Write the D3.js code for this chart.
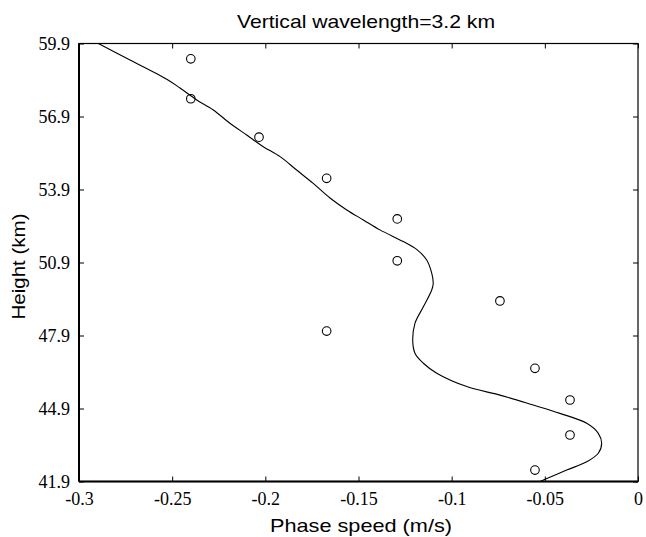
<!DOCTYPE html>
<html>
<head>
<meta charset="utf-8">
<script src="https://cdn.jsdelivr.net/npm/d3@7"></script>
<style>
  html, body { margin: 0; padding: 0; background: #fff; }
  svg { display: block; }
  .ticklab { font-family: "Liberation Serif", "Times New Roman", Times, serif; font-size: 18px; fill: #000; }
  .lab { font-family: "Liberation Sans", Arial, Helvetica, sans-serif; font-size: 19px; fill: #000; }
</style>
</head>
<body>
<svg id="chart" width="646" height="537"></svg>
<script>
// Observed phase speeds (circles)
const obsSpeed  = [-0.240, -0.240, -0.2034, -0.1671, -0.1292, -0.1292, -0.0741, -0.1671, -0.0553, -0.0365, -0.0365, -0.0553];
const obsHeight = [59.27, 57.63, 56.05, 54.36, 52.69, 50.97, 49.32, 48.08, 46.55, 45.25, 43.81, 42.37];

// Fitted curve
const fitSpeed  = [-0.2896, -0.2744, -0.2529, -0.2458, -0.2368, -0.2279, -0.2190, -0.2100, -0.2011, -0.1921, -0.1832,
                   -0.1743, -0.1653, -0.1563, -0.1474, -0.1385, -0.1260, -0.1188, -0.1134, -0.1107, -0.1099,
                   -0.1107, -0.1152, -0.1197, -0.1209, -0.1197, -0.1152, -0.1080,
                   -0.0919, -0.0741, -0.0562, -0.0419, -0.0275, -0.0213, -0.0195, -0.0213, -0.0275, -0.0383, -0.0508, -0.0526];
const fitHeight = [59.90, 59.29, 58.43, 58.07, 57.58, 57.17, 56.62, 56.14, 55.66, 55.25, 54.70,
                   54.15, 53.55, 53.06, 52.65, 52.24, 51.76, 51.44, 51.00, 50.46, 50.04,
                   49.77, 49.08, 48.40, 47.71, 47.17, 46.76, 46.35,
                   45.80, 45.45, 45.04, 44.70, 44.29, 43.88, 43.47, 43.06, 42.71, 42.37, 41.96, 41.90];

const xTicks = [-0.3, -0.25, -0.2, -0.15, -0.1, -0.05, 0];
const xTickLabels = ["-0.3", "-0.25", "-0.2", "-0.15", "-0.1", "-0.05", "0"];
const yTicks = [41.9, 44.9, 47.9, 50.9, 53.9, 56.9, 59.9];
const yTickLabels = ["41.9", "44.9", "47.9", "50.9", "53.9", "56.9", "59.9"];

const titleText = "Vertical wavelength=3.2 km";
const xLabelText = "Phase speed (m/s)";
const yLabelText = "Height (km)";

(function () {
const W = 646, H = 537;
const m = { left: 79, right: 8, top: 43.5, bottom: 55.5 };
const iw = W - m.left - m.right, ih = H - m.top - m.bottom;

const svg = d3.select("#chart");
const g = svg.append("g").attr("transform", `translate(${m.left},${m.top})`);

const x = d3.scaleLinear().domain([-0.3, 0]).range([0, iw]);
const y = d3.scaleLinear().domain([41.9, 59.9]).range([ih, 0]);

// Axes with inward ticks
const axB = g.append("g").attr("transform", `translate(0,${ih})`)
  .call(d3.axisBottom(x).tickValues(xTicks).tickSize(-5).tickPadding(11)
        .tickFormat((d, i) => xTickLabels[i]));
const axL = g.append("g")
  .call(d3.axisLeft(y).tickValues(yTicks).tickSize(-5).tickPadding(9)
        .tickFormat((d, i) => yTickLabels[i]));
const axT = g.append("g")
  .call(d3.axisTop(x).tickValues(xTicks).tickSize(-5).tickFormat(""));
const axR = g.append("g").attr("transform", `translate(${iw},0)`)
  .call(d3.axisRight(y).tickValues(yTicks).tickSize(-5).tickFormat(""));

[axB, axL, axT, axR].forEach(a => {
  a.attr("font-family", null).attr("font-size", null);
  a.select(".domain").remove();
  a.selectAll(".tick line").attr("stroke", "#000").attr("stroke-width", 1);
  a.selectAll("text").attr("class", "ticklab").attr("fill", "#000");
});

// Frame
g.append("rect").attr("x", 0).attr("y", 0).attr("width", iw).attr("height", ih)
  .attr("fill", "none").attr("stroke", "#000").attr("stroke-width", 1.2);
g.append("line").attr("x1", 0).attr("x2", 0).attr("y1", 0).attr("y2", ih)
  .attr("stroke", "#000").attr("stroke-width", 2);
g.append("line").attr("x1", 0).attr("x2", iw).attr("y1", ih).attr("y2", ih)
  .attr("stroke", "#000").attr("stroke-width", 2);

// Fitted curve
const fit = fitSpeed.map((s, i) => [s, fitHeight[i]]);
g.append("path").datum(fit)
  .attr("fill", "none").attr("stroke", "#000").attr("stroke-width", 1.1)
  .attr("d", d3.line().x(d => x(d[0])).y(d => y(d[1])).curve(d3.curveCatmullRom.alpha(0.5)));

// Observations
const obs = obsSpeed.map((s, i) => [s, obsHeight[i]]);
g.selectAll("circle.obs").data(obs).enter().append("circle")
  .attr("class", "obs")
  .attr("cx", d => x(d[0])).attr("cy", d => y(d[1])).attr("r", 4.3)
  .attr("fill", "none").attr("stroke", "#000").attr("stroke-width", 1.1);

// Title and labels
svg.append("text").attr("class", "lab").attr("x", 366).attr("y", 28).attr("text-anchor", "middle")
  .attr("textLength", 258).attr("lengthAdjust", "spacingAndGlyphs").text(titleText);
svg.append("text").attr("class", "lab").attr("x", 361).attr("y", 532).attr("text-anchor", "middle")
  .attr("textLength", 182).attr("lengthAdjust", "spacingAndGlyphs").text(xLabelText);
svg.append("text").attr("class", "lab").attr("transform", "translate(25,266.5) rotate(-90)").attr("text-anchor", "middle")
  .attr("textLength", 106).attr("lengthAdjust", "spacingAndGlyphs").text(yLabelText);
})();
</script>
</body>
</html>
